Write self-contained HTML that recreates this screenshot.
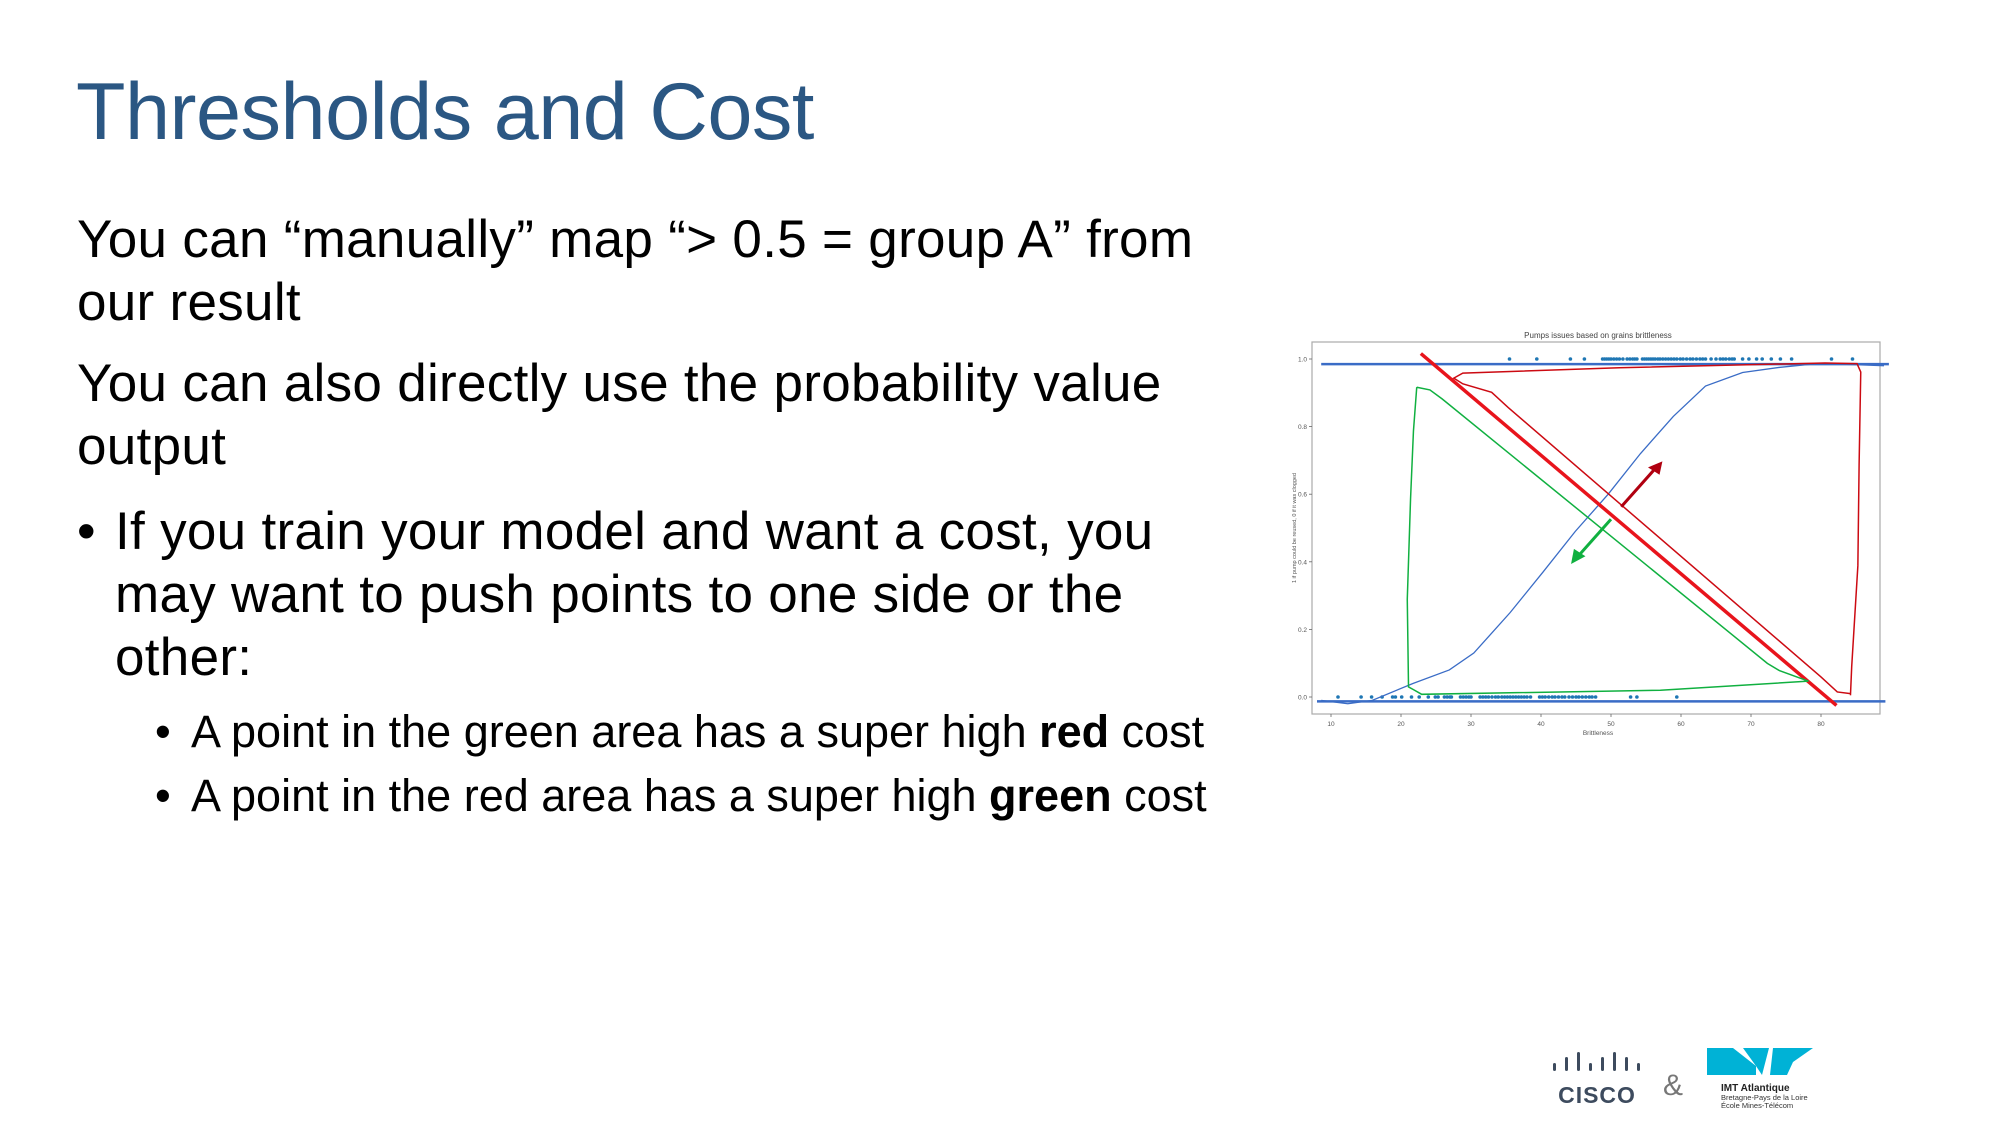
<!DOCTYPE html>
<html><head><meta charset="utf-8"><style>
body{margin:0;width:2000px;height:1125px;background:#fff;overflow:hidden;position:relative;font-family:"Liberation Sans",sans-serif}
.t{position:absolute;white-space:nowrap;color:#000}
</style></head><body>
<div class="t" style="left:76px;top:66px;font-size:81px;color:#2B5783;letter-spacing:-0.5px">Thresholds and Cost</div>
<div class="t" style="left:77px;top:208px;font-size:53px;line-height:63px;letter-spacing:0.3px">You can “manually” map “&gt; 0.5 = group A” from<br>our result</div>
<div class="t" style="left:77px;top:352px;font-size:53px;line-height:63px;letter-spacing:0.3px">You can also directly use the probability value<br>output</div>
<div class="t" style="left:77px;top:500px;font-size:53px;line-height:63px;letter-spacing:0.3px"><span style="position:absolute;left:0">•</span><div style="margin-left:38px">If you train your model and want a cost, you<br>may want to push points to one side or the<br>other:</div></div>
<div class="t" style="left:155px;top:700px;font-size:45px;line-height:64px"><span style="position:absolute;left:0">•</span><div style="margin-left:36px">A point in the green area has a super high <b>red</b> cost<br>A point in the red area has a super high <b>green</b> cost</div></div>
<span class="t" style="left:155px;top:764px;font-size:45px;line-height:64px">•</span>

<svg id="chart" width="2000" height="1125" style="position:absolute;left:0;top:0" xmlns="http://www.w3.org/2000/svg"></svg>

<svg width="2000" height="1125" style="position:absolute;left:0;top:0">
<g fill="#3d4b5e">
<rect x="1553" y="1063" width="3" height="8" rx="1.5"/><rect x="1565" y="1057" width="3" height="14" rx="1.5"/><rect x="1577" y="1052" width="3" height="19" rx="1.5"/><rect x="1589" y="1063" width="3" height="8" rx="1.5"/><rect x="1601" y="1057" width="3" height="14" rx="1.5"/><rect x="1613" y="1052" width="3" height="19" rx="1.5"/><rect x="1625" y="1057" width="3" height="14" rx="1.5"/><rect x="1637" y="1063" width="3" height="8" rx="1.5"/>
</g>
<text x="1597" y="1103" text-anchor="middle" font-size="23" font-weight="bold" fill="#3d4b5e" font-family="Liberation Sans" letter-spacing="1">CISCO</text>
<text x="1673" y="1095" text-anchor="middle" font-size="30" fill="#777" font-family="Liberation Sans">&amp;</text>
<g fill="#00b2d6">
<polygon points="1707,1048 1733,1048 1756,1066 1756,1075 1707,1075 1707,1062"/>
<polygon points="1743,1048 1769,1048 1762,1075 1756,1066"/>
<polygon points="1773,1048 1813,1048 1793,1062 1787,1075 1770,1075"/>
</g>
<text x="1721" y="1091" font-size="10" font-weight="bold" fill="#222" font-family="Liberation Sans">IMT Atlantique</text>
<text x="1721" y="1100" font-size="7.5" fill="#333" font-family="Liberation Sans">Bretagne-Pays de la Loire</text>
<text x="1721" y="1108" font-size="7.5" fill="#333" font-family="Liberation Sans">École Mines-Télécom</text>
</svg>

<script>
const xTicks=[10,20,30,40,50,60,70,80];
const yTicks=[0.0,0.2,0.4,0.6,0.8,1.0];
const pointsPass=[35.5,39.4,44.2,46.2,48.8,49.1,49.4,49.7,50,50.4,50.8,51.2,51.7,52.3,52.7,53.1,53.4,53.7,54.5,54.8,55.1,55.4,55.7,56,56.3,56.7,57,57.4,57.8,58.2,58.6,59,59.4,59.9,60.3,60.8,61.3,61.7,62.2,62.7,63.1,63.5,64.3,65,65.6,66,66.4,66.9,67.3,67.6,68.8,69.7,70.8,71.6,72.9,74.2,75.8,81.5,84.5];
const pointsFail=[11,14.3,15.8,17.3,18.8,19.2,20.1,21.5,22.6,23.9,24.9,25.3,26.2,26.6,27,27.2,28.5,28.9,29.3,29.7,30,31.3,31.7,32.1,32.5,33,33.5,33.9,34.4,34.8,35.2,35.6,36,36.4,36.8,37.2,37.6,38,38.5,39.8,40.2,40.6,41.1,41.6,42,42.5,43,43.4,44,44.5,45,45.4,45.9,46.4,46.9,47.3,47.8,52.8,53.7,59.4];
const curveX=[8.6,12.4,15.9,21.7,26.9,30.4,35.6,40.3,44.9,49.6,54.2,58.9,63.5,68.8,74,79.8,89];
const curveY=[-0.01,-0.02,-0.01,0.04,0.08,0.13,0.25,0.37,0.49,0.6,0.72,0.83,0.92,0.96,0.975,0.987,0.98];
const X=v=>1331+(v-10)*7.0;
const Y=v=>697-v*338;
const NS='http://www.w3.org/2000/svg';
const svg=document.getElementById('chart');
function mk(tag,attrs,parent){const e=document.createElementNS(NS,tag);for(const k in attrs)e.setAttribute(k,attrs[k]);(parent||svg).appendChild(e);return e;}
const frame=mk('rect',{x:1312,y:342,width:568,height:372,fill:'none',stroke:'#aaa','stroke-width':1.2});


const title=mk('text',{x:1598,y:338,'text-anchor':'middle','font-size':8,fill:'#444','font-family':'Liberation Sans'});
title.textContent='Pumps issues based on grains brittleness';


xTicks.forEach(t=>{
  mk('line',{x1:X(t),x2:X(t),y1:714,y2:717,stroke:'#666','stroke-width':0.8});
  const tx=mk('text',{x:X(t),y:726,'text-anchor':'middle','font-size':6.5,fill:'#555','font-family':'Liberation Sans'});
  tx.textContent=t;
  
  
});
yTicks.forEach(t=>{
  mk('line',{x1:1309,x2:1312,y1:Y(t),y2:Y(t),stroke:'#666','stroke-width':0.8});
  const tx=mk('text',{x:1307,y:Y(t)+2.5,'text-anchor':'end','font-size':6.5,fill:'#555','font-family':'Liberation Sans'});
  tx.textContent=t.toFixed(1);
  
  
});
const xl=mk('text',{x:1598,y:735,'text-anchor':'middle','font-size':6.5,fill:'#555','font-family':'Liberation Sans'});
xl.textContent='Brittleness';


const yl=mk('text',{x:0,y:0,'text-anchor':'middle','font-size':5.5,fill:'#555','font-family':'Liberation Sans',transform:'translate(1296,528) rotate(-90)'});
yl.textContent='1 if pump could be reused, 0 if it was clogged';


const l1=mk('line',{x1:X(8.6),x2:X(89.7),y1:Y(0.985),y2:Y(0.985),stroke:'#3a6cc6','stroke-width':2.5});


const l2=mk('line',{x1:X(8.0),x2:X(89.2),y1:Y(-0.013),y2:Y(-0.013),stroke:'#3a6cc6','stroke-width':2.5});


pointsPass.forEach(v=>{const c=mk('circle',{cx:X(v),cy:Y(1),r:1.8,fill:'#1f77b4'});

});
pointsFail.forEach(v=>{const c=mk('circle',{cx:X(v),cy:Y(0),r:1.8,fill:'#1f77b4'});

});
let d='';curveX.forEach((v,i)=>{d+=(i?'L':'M')+X(v)+','+Y(curveY[i]);});
const cv=mk('path',{d:d,fill:'none',stroke:'#3a6cc6','stroke-width':1.3});


const g=mk('g',{transform:'translate(1290,330) scale(0.4115,0.3367)'});


const ns={'vector-effect':'non-scaling-stroke',fill:'none'};
function ann(d,stroke,w,name){const p=mk('path',Object.assign({d:d,stroke:stroke,'stroke-width':w},ns),g);

return p;}
ann('M318,70 L1328,1115','#e8141c',3.5,'red-threshold-line');
ann('M1362,1085 L1365,1000 L1380,700 L1383,400 L1387,125 L1378,100 L1300,98 L800,112 L420,128 L398,143 L420,160 L490,185 L530,230 L1290,1030 L1330,1075 L1362,1080','#cc0a12',1.5,'red-area-outline');
ann('M308,170 L340,178 L370,205 L1160,990 L1190,1012 L1260,1043 L900,1070 L320,1082 L300,1068 L288,1060 L285,800 L293,500 L300,300 L308,170','#10b040',1.5,'green-area-outline');
ann('M805,525 L885,415','#b00010',3,'red-arrow-shaft');
const ra=mk('polygon',{points:'905,390 870,408 898,430',fill:'#b00010'},g);


ann('M780,562 L703,668','#10b040',3,'green-arrow-shaft');
const ga=mk('polygon',{points:'683,695 690,650 718,672',fill:'#10b040'},g);


</script>
</body></html>
